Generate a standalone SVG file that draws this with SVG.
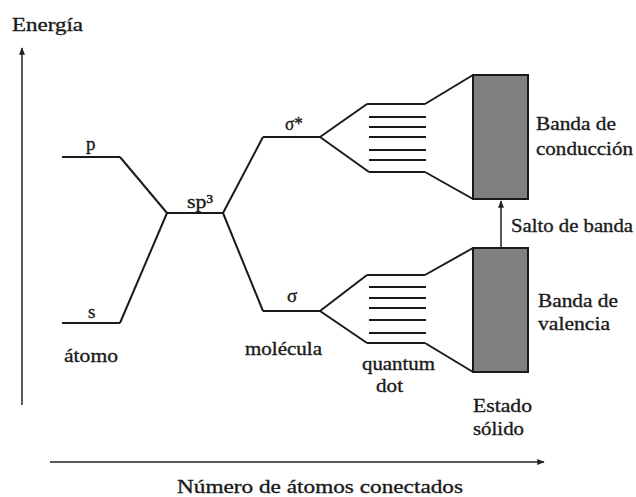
<svg xmlns="http://www.w3.org/2000/svg" width="636" height="497" viewBox="0 0 636 497">
<style>
text{font-family:'Liberation Serif','Times New Roman','DejaVu Serif',serif;font-size:19px;fill:#1a1a1a;stroke:#1a1a1a;stroke-width:0.35}
.l{stroke:#1a1a1a;stroke-width:2;fill:none}
.ax{stroke:#222;stroke-width:1.5;fill:none}
.band{fill:#808080;stroke:#1a1a1a;stroke-width:2}
</style>
<defs>
<marker id="ah" viewBox="0 0 10 10" refX="9" refY="5" markerWidth="5" markerHeight="5" orient="auto">
<path d="M0,1 L10,5 L0,9 z" fill="#222"/>
</marker>
</defs>
<rect width="636" height="497" fill="#fff"/>
<g id="axes">
<line class="ax" x1="22" y1="405" x2="22" y2="48" marker-end="url(#ah)"/>
<line class="ax" x1="50" y1="462" x2="544" y2="462" marker-end="url(#ah)"/>
<text x="12" y="31" textLength="71" lengthAdjust="spacingAndGlyphs">Energía</text>
<text x="177" y="493" textLength="286" lengthAdjust="spacingAndGlyphs">Número de átomos conectados</text>
</g>
<g id="connectors">
<polyline class="l" points="120,157 167,213"/>
<polyline class="l" points="120,323 167,213"/>
<polyline class="l" points="223,213 263,137"/>
<polyline class="l" points="223,213 263,311"/>
<polyline class="l" points="320,137 367,104"/>
<polyline class="l" points="320,137 369,172"/>
<polyline class="l" points="425,104 473,75"/>
<polyline class="l" points="425,172 473,199"/>
<polyline class="l" points="320,311 367,275"/>
<polyline class="l" points="320,311 367,343"/>
<polyline class="l" points="425,275 473,248"/>
<polyline class="l" points="425,343 473,372"/>
<line class="ax" x1="501" y1="248" x2="501" y2="201" marker-end="url(#ah)"/>
</g>
<g id="atom-p">
<line class="l" x1="62" y1="157" x2="120" y2="157"/>
<text x="86" y="150">p</text>
</g>
<g id="atom-s">
<line class="l" x1="62" y1="323" x2="120" y2="323"/>
<text x="88" y="318">s</text>
<text x="64" y="362" textLength="54" lengthAdjust="spacingAndGlyphs">átomo</text>
</g>
<g id="sp3">
<line class="l" x1="167" y1="213" x2="223" y2="213"/>
<text x="187" y="208" textLength="26" lengthAdjust="spacingAndGlyphs">sp³</text>
</g>
<g id="sigma-star">
<line class="l" x1="263" y1="137" x2="320" y2="137"/>
<text x="285" y="130" textLength="18" lengthAdjust="spacingAndGlyphs">σ*</text>
</g>
<g id="sigma">
<line class="l" x1="263" y1="311" x2="320" y2="311"/>
<text x="287" y="302">σ</text>
<text x="245" y="355" textLength="77" lengthAdjust="spacingAndGlyphs">molécula</text>
</g>
<g id="qd-conduction">
<line class="l" x1="367" y1="104" x2="425" y2="104"/>
<line class="l" x1="369" y1="117" x2="426" y2="117"/>
<line class="l" x1="369" y1="127" x2="426" y2="127"/>
<line class="l" x1="369" y1="137" x2="426" y2="137"/>
<line class="l" x1="369" y1="150" x2="426" y2="150"/>
<line class="l" x1="369" y1="160" x2="426" y2="160"/>
<line class="l" x1="369" y1="172" x2="425" y2="172"/>
</g>
<g id="qd-valence">
<line class="l" x1="367" y1="275" x2="425" y2="275"/>
<line class="l" x1="369" y1="287" x2="426" y2="287"/>
<line class="l" x1="369" y1="298" x2="426" y2="298"/>
<line class="l" x1="369" y1="308" x2="426" y2="308"/>
<line class="l" x1="369" y1="320" x2="426" y2="320"/>
<line class="l" x1="369" y1="333" x2="426" y2="333"/>
<line class="l" x1="367" y1="343" x2="425" y2="343"/>
<text x="362" y="370" textLength="73" lengthAdjust="spacingAndGlyphs">quantum</text>
<text x="376" y="392" textLength="27" lengthAdjust="spacingAndGlyphs">dot</text>
</g>
<g id="conduction-band">
<rect class="band" x="473" y="75" width="55" height="124"/>
<text x="536" y="130" textLength="80" lengthAdjust="spacingAndGlyphs">Banda de</text>
<text x="536" y="155" textLength="97" lengthAdjust="spacingAndGlyphs">conducción</text>
</g>
<g id="band-gap">
<text x="511" y="232" textLength="122" lengthAdjust="spacingAndGlyphs">Salto de banda</text>
</g>
<g id="valence-band">
<rect class="band" x="473" y="248" width="55" height="124"/>
<text x="538" y="307" textLength="80" lengthAdjust="spacingAndGlyphs">Banda de</text>
<text x="538" y="330" textLength="72" lengthAdjust="spacingAndGlyphs">valencia</text>
<text x="473" y="412" textLength="59" lengthAdjust="spacingAndGlyphs">Estado</text>
<text x="473" y="435" textLength="51" lengthAdjust="spacingAndGlyphs">sólido</text>
</g>
</svg>
